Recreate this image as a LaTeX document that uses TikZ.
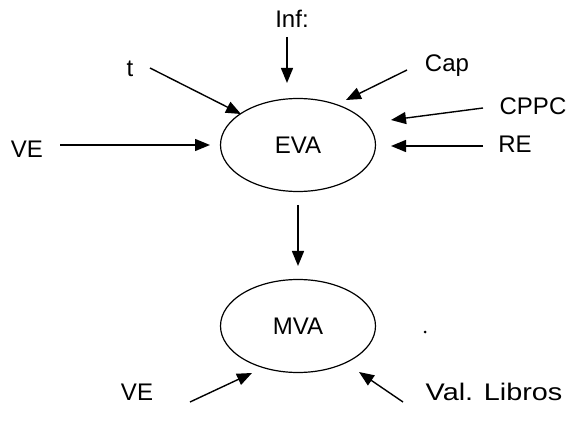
\documentclass[tikz,border=0pt]{standalone}
\usepackage{fontspec}
\setmainfont{Liberation Sans}
\usetikzlibrary{shapes.geometric,arrows.meta}
\begin{document}
\begin{tikzpicture}[x=1pt,y=-1pt,
  lbl/.style={font=\fontsize{24}{28}\selectfont, inner sep=0pt},
  oval/.style={draw, ellipse, line width=1.2pt, minimum width=155pt, minimum height=93pt, font=\fontsize{24}{28}\selectfont},
  arr/.style={line width=1.4pt, -{Triangle[length=15pt,width=12pt]}}]
\useasboundingbox (0,0) rectangle (571,425);
\node[oval] (eva) at (298,145) {EVA};
\node[oval] (mva) at (298,326) {MVA};
\node[lbl] (inf) at (292,19) {Inf:};
\node[lbl] (t) at (130,69) {t};
\node[lbl] (cap) at (447,66) {Cap};
\node[lbl] (cppc) at (533,106) {CPPC};
\node[lbl] (re) at (515,144) {RE};
\node[lbl] (vel) at (27,149) {VE};
\node[lbl] (veb) at (137,392) {VE};
\node[lbl, xscale=1.2] (val) at (494,392) {Val. Libros};
\node[fill, circle, inner sep=0pt, minimum size=3pt] (dot) at (425,332) {};
\coordinate (s1) at (287,37); \coordinate (e1) at (287,83);
\coordinate (s2) at (150,68); \coordinate (e2) at (241,114);
\coordinate (s3) at (407,70); \coordinate (e3) at (346,100);
\coordinate (s4) at (483,108); \coordinate (e4) at (391,120);
\coordinate (s5) at (483,146); \coordinate (e5) at (391,146);
\coordinate (s6) at (60,145); \coordinate (e6) at (210,145);
\coordinate (s7) at (298,205); \coordinate (e7) at (298,266);
\coordinate (s8) at (190,402); \coordinate (e8) at (252,373);
\coordinate (s9) at (403,402); \coordinate (e9) at (359,372);
\draw[arr] (s1) -- (e1);
\draw[arr] (s2) -- (e2);
\draw[arr] (s3) -- (e3);
\draw[arr] (s4) -- (e4);
\draw[arr] (s5) -- (e5);
\draw[arr] (s6) -- (e6);
\draw[arr] (s7) -- (e7);
\draw[arr] (s8) -- (e8);
\draw[arr] (s9) -- (e9);
\end{tikzpicture}
\end{document}
